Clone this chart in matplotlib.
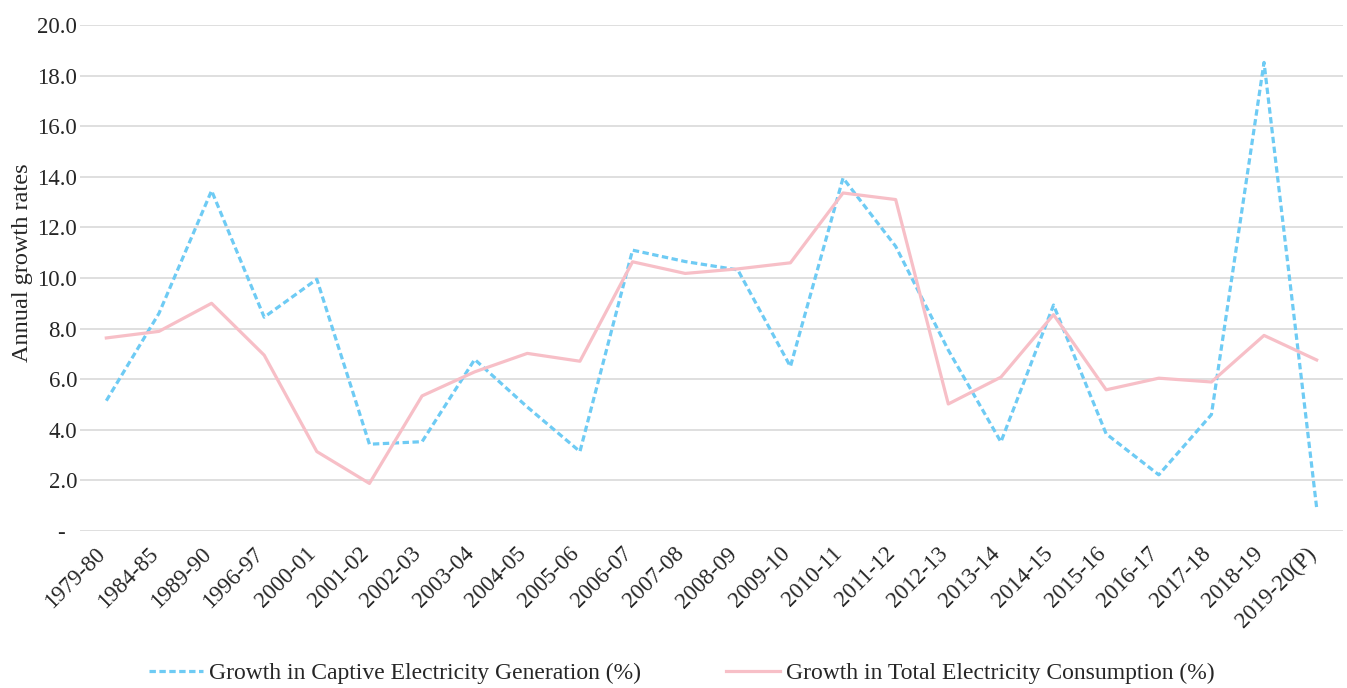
import matplotlib.pyplot as plt
from matplotlib.ticker import FuncFormatter

# data
years = [
    "1979-80", "1984-85", "1989-90", "1996-97", "2000-01", "2001-02", "2002-03",
    "2003-04", "2004-05", "2005-06", "2006-07", "2007-08", "2008-09", "2009-10",
    "2010-11", "2011-12", "2012-13", "2013-14", "2014-15", "2015-16", "2016-17",
    "2017-18", "2018-19", "2019-20(P)",
]
captive_gen = [
    5.15, 8.6, 13.45, 8.45, 9.95, 3.43, 3.53,
    6.78, 4.9, 3.14, 11.1, 10.65, 10.32, 6.5,
    13.95, 11.25, 7.15, 3.52, 8.93, 3.84, 2.22,
    4.6, 18.52, 0.92,
]
total_cons = [
    7.63, 7.89, 9.0, 6.95, 3.14, 1.88, 5.34,
    6.29, 7.02, 6.71, 10.64, 10.18, 10.36, 10.6,
    13.36, 13.1, 5.02, 6.08, 8.55, 5.58, 6.04,
    5.89, 7.73, 6.76,
]
yticks = [0, 2, 4, 6, 8, 10, 12, 14, 16, 18, 20]

plt.rcParams["font.family"] = ["Liberation Serif", "DejaVu Serif"]
txt = "#262626"

fig = plt.figure(figsize=(13.47, 6.88), dpi=100)
ax = fig.add_axes([0.0594, 0.2282, 0.9376, 0.7355])

x = list(range(len(years)))
ax.plot(x, captive_gen, color="#6ECBF4", lw=2.3, ls=(0, (2.0, 1.1)),
        label="Growth in Captive Electricity Generation (%)")
ax.plot(x, total_cons, color="#F7BFC7", lw=2.3,
        label="Growth in Total Electricity Consumption (%)")

ax.set_xlim(-0.5, len(years) - 0.5)
ax.set_ylim(0, 20)
ax.set_yticks(yticks)
# excel style: zero shown as a dash
ax.yaxis.set_major_formatter(FuncFormatter(lambda v, _: "-  " if v == 0 else f"{v:.1f}"))
ax.set_xticks(x)
ax.set_xticklabels(years, rotation=45, ha="right", va="baseline", rotation_mode="anchor")
ax.tick_params(axis="both", length=0, labelsize=16.5, colors=txt)
ax.tick_params(axis="x", pad=17)
ax.tick_params(axis="y", pad=2)

ax.grid(axis="y", color="#D9D9D9", lw=1.2)
ax.set_axisbelow(True)
for s in ax.spines.values():
    s.set_visible(False)

ax.set_ylabel("Annual growth rates", fontsize=17.5, color=txt)
ax.yaxis.set_label_coords(-0.037, 0.53)

fig.legend(loc="lower center", bbox_to_anchor=(0.506, -0.025), ncol=2, frameon=False,
           fontsize=17, handlelength=2.3, columnspacing=3.6, handletextpad=0.25,
           labelcolor=txt)

fig.savefig("out.png", dpi=100)
